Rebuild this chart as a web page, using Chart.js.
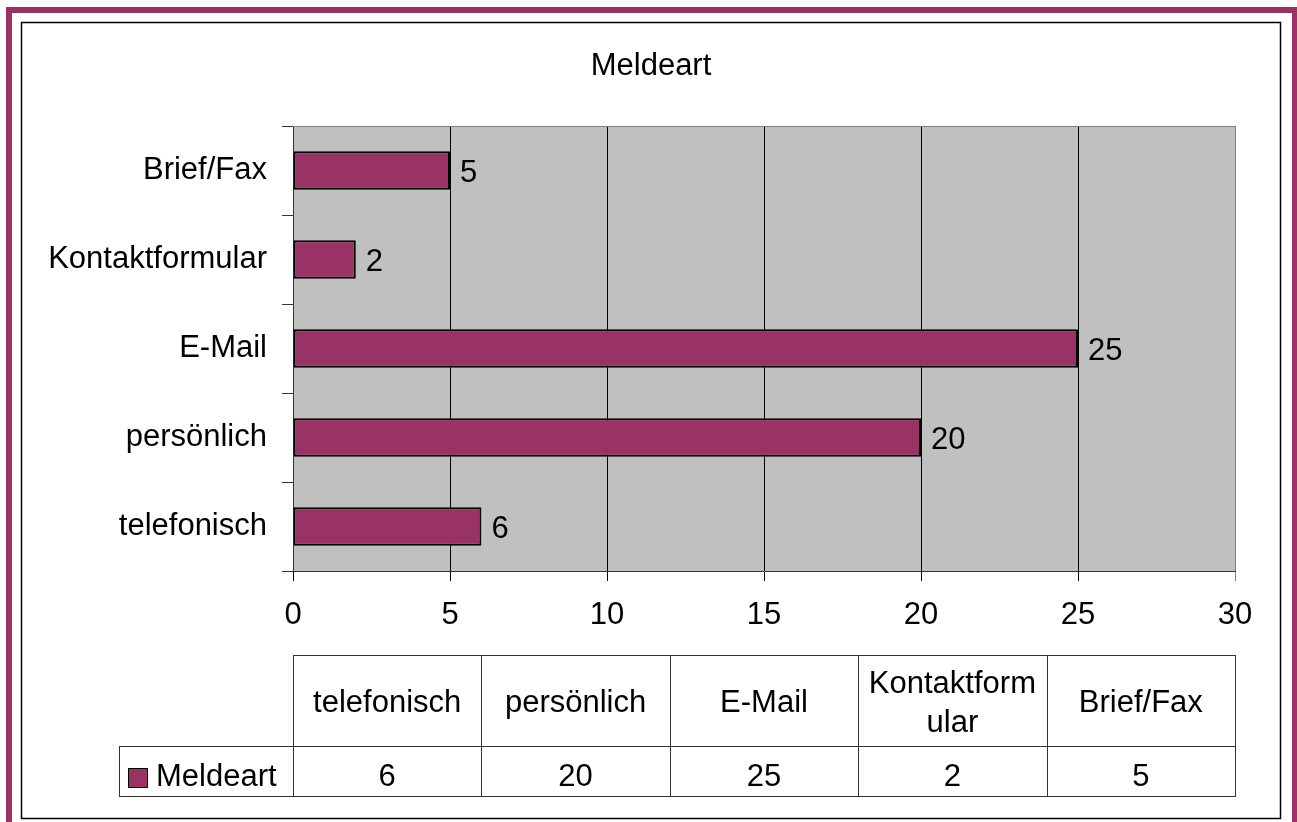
<!DOCTYPE html>
<html>
<head>
<meta charset="utf-8">
<script src="https://cdn.jsdelivr.net/npm/chart.js@4.4.0/dist/chart.umd.min.js"></script>
<style>
    html, body { margin: 0; padding: 0; background: #fff; }
    #wrap { width: 1297px; height: 822px; position: relative; }
</style>
</head>
<body>
<div id="wrap"><canvas id="chart"></canvas></div>
<script>
    /*Data*/
    var categories = ['telefonisch', 'persönlich', 'E-Mail', 'Kontaktformular', 'Brief/Fax'];
    var tableHeaders = [['telefonisch'], ['persönlich'], ['E-Mail'], ['Kontaktform', 'ular'], ['Brief/Fax']];
    var meldeartValues = [6, 20, 25, 2, 5];
    var seriesName = 'Meldeart';
    var chartTitle = 'Meldeart';
    var axisMin = 0;
    var axisMax = 30;
    var axisStep = 5;

    /*Styles*/
    var FONT = '"Liberation Sans", Arial, sans-serif';
    var FONT_SIZE = 31;
    var BAR_COLOR = '#993366';
    var PLOT_BG = '#c0c0c0';
    var LINE_DARK = '#333333';

    /*Draws the excel style frame, plot background, labels and data table*/
    var excelLook = {
        id: 'excelLook',
        beforeDraw: function(chart) {
            var ctx = chart.ctx;
            var a = chart.chartArea;
            ctx.save();
            ctx.fillStyle = '#fff';
            ctx.fillRect(0, 0, chart.width, chart.height);

            /*outer frame*/
            ctx.fillStyle = BAR_COLOR;
            ctx.fillRect(6, 7, chart.width - 6, 6);
            ctx.fillRect(6, 7, 6, chart.height - 7);
            ctx.fillRect(1292, 7, 6, chart.height - 7);

            /*inner border*/
            ctx.strokeStyle = '#000';
            ctx.lineWidth = 1.5;
            ctx.strokeRect(21.5, 22.5, 1259, 796);

            /*plot area*/
            ctx.fillStyle = PLOT_BG;
            ctx.fillRect(a.left, a.top, a.right - a.left, a.bottom - a.top);
            ctx.restore();
        },
        afterDatasetsDraw: function(chart) {
            var ctx = chart.ctx;
            var meta = chart.getDatasetMeta(0);
            ctx.save();
            ctx.font = FONT_SIZE + 'px ' + FONT;
            ctx.fillStyle = '#000';
            ctx.textAlign = 'left';
            ctx.textBaseline = 'alphabetic';
            meta.data.forEach(function(bar, i) {
                ctx.fillText(String(meldeartValues[i]), bar.x + 10, bar.y + 11);
            });
            ctx.restore();
        },
        afterDraw: function(chart) {
            var ctx = chart.ctx;
            var a = chart.chartArea;
            ctx.save();

            /*plot border top/right*/
            ctx.strokeStyle = '#808080';
            ctx.lineWidth = 1;
            ctx.beginPath();
            ctx.moveTo(a.left, a.top + 0.5);
            ctx.lineTo(a.right + 0.5, a.top + 0.5);
            ctx.lineTo(a.right + 0.5, a.bottom);
            ctx.stroke();

            /*title*/
            ctx.font = FONT_SIZE + 'px ' + FONT;
            ctx.fillStyle = '#000';
            ctx.textAlign = 'center';
            ctx.textBaseline = 'alphabetic';
            ctx.fillText(chartTitle, 651, 75);

            /*data table*/
            var colW = (a.right - a.left) / categories.length;
            var top = 655.5, mid = 746.5, bottom = 796.5, legendLeft = 119.5;
            ctx.strokeStyle = LINE_DARK;
            ctx.lineWidth = 1;
            for (var i = 0; i < categories.length; i++) {
                var x0 = Math.round(a.left + i * colW) + 0.5;
                var x1 = Math.round(a.left + (i + 1) * colW) + 0.5;
                ctx.strokeRect(x0, top, x1 - x0, mid - top);
                ctx.strokeRect(x0, mid, x1 - x0, bottom - mid);

                var cx = a.left + (i + 0.5) * colW;
                var lines = tableHeaders[i];
                var cy = (top + mid) / 2;
                lines.forEach(function(txt, j) {
                    var y = cy + (j - (lines.length - 1) / 2) * 39;
                    ctx.fillText(txt, cx, y + 11);
                });
                ctx.fillText(String(meldeartValues[i]), cx, 786);
            }
            ctx.strokeRect(legendLeft, mid, Math.round(a.left) + 0.5 - legendLeft, bottom - mid);

            /*legend key*/
            ctx.fillStyle = BAR_COLOR;
            ctx.fillRect(128, 768, 20, 20);
            ctx.strokeStyle = '#000';
            ctx.strokeRect(128.5, 768.5, 19, 19);
            ctx.fillStyle = '#000';
            ctx.textAlign = 'left';
            ctx.fillText(seriesName, 156, 786);
            ctx.restore();
        }
    };

    new Chart(document.getElementById('chart').getContext('2d'), {
        type: 'bar',
        data: {
            labels: categories,
            datasets: [{
                label: seriesName,
                data: meldeartValues,
                backgroundColor: BAR_COLOR,
                borderColor: '#000',
                borderWidth: 2,
                borderSkipped: false,
                barPercentage: 0.43,
                categoryPercentage: 1
            }]
        },
        options: {
            indexAxis: 'y',
            responsive: true,
            maintainAspectRatio: false,
            animation: false,
            layout: { padding: { left: 0, top: 126, right: 62, bottom: 191 } },
            plugins: {
                legend: { display: false },
                title: { display: false },
                tooltip: { enabled: false }
            },
            scales: {
                x: {
                    type: 'linear',
                    min: axisMin,
                    max: axisMax,
                    ticks: {
                        stepSize: axisStep,
                        color: '#000',
                        padding: 16,
                        font: { family: FONT, size: FONT_SIZE }
                    },
                    grid: {
                        color: function(c) { return c.tick && c.tick.value === axisMax ? '#808080' : '#000'; },
                        lineWidth: 1,
                        tickLength: 10
                    },
                    border: { color: LINE_DARK, width: 1 },
                    afterFit: function(scale) { scale.height = 60; }
                },
                y: {
                    type: 'category',
                    reverse: true,
                    ticks: {
                        color: '#000',
                        padding: 15,
                        font: { family: FONT, size: FONT_SIZE }
                    },
                    grid: {
                        drawOnChartArea: false,
                        offset: true,
                        tickLength: 11,
                        color: LINE_DARK
                    },
                    border: { color: LINE_DARK, width: 1 },
                    afterFit: function(scale) { scale.width = 293; }
                }
            }
        },
        plugins: [excelLook]
    });
</script>
</body>
</html>
